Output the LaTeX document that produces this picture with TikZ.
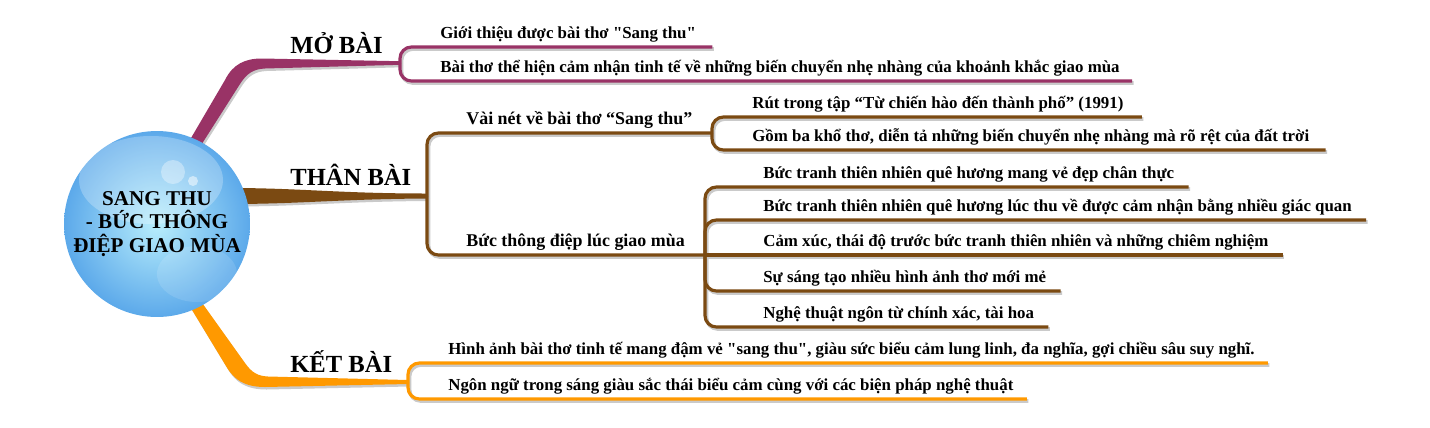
\documentclass[tikz,border=0pt]{standalone}
\usepackage{fontspec}
\setmainfont{Liberation Serif}[Ligatures=TeXOff]
\usepackage{tikz}
\usetikzlibrary{calc,positioning}
\definecolor{mocol}{HTML}{993366}
\definecolor{thancol}{HTML}{7B4A12}
\definecolor{ketcol}{HTML}{FF9900}
\definecolor{sphin}{HTML}{B8EEFC}
\definecolor{sphout}{HTML}{5CA9EA}
\definecolor{shcol}{HTML}{CACACA}
% all thin connectors, drawn twice (shadow, then colour)
\newcommand{\links}{%
  \draw[lnk=mocol] (moF) |- ($(mo1.south east)+(16,0)$);
  \draw[lnk=mocol] (moF) |- ($(mo2.south east)+(12,0)$);
  \draw[lnk=thancol] (thF) |- (t1F);
  \draw[lnk=thancol] (thF) |- (t2F);
  \draw[lnk=thancol] (t1F) |- ($(t11.south east)+(18,0)$);
  \draw[lnk=thancol] (t1F) |- ($(t12.south east)+(16,0)$);
  \draw[lnk=thancol] (t2F) |- ($(t21.south east)+(14,0)$);
  \draw[lnk=thancol] (t2F) |- ($(t22.south east)+(14,0)$);
  \draw[lnk=thancol] (t2F) -- ($(t23.south east)+(14,0)$);
  \draw[lnk=thancol] (t2F) |- ($(t24.south east)+(14,0)$);
  \draw[lnk=thancol] (t2F) |- ($(t25.south east)+(14,0)$);
  \draw[lnk=ketcol] (ketF) |- ($(ket1.south east)+(13,0)$);
  \draw[lnk=ketcol] (ketF) |- ($(ket2.south east)+(13,0)$);
}

\begin{document}
\begin{tikzpicture}[
  x=0.02cm, y=-0.02cm,
  root/.style={circle, minimum size=3.72cm, inner sep=0pt, align=center, inner color=sphin, outer color=sphout,
    font=\fontsize{12}{13.6}\selectfont\bfseries,
    path picture={
      \fill[white, opacity=0.25] ($(path picture bounding box.center)+(-6,-44)$) ellipse [x radius=72, y radius=44];
      \fill[white, opacity=0.12] ($(path picture bounding box.center)+(40,50)$) ellipse [x radius=40, y radius=28];
      \fill[white, opacity=0.35] ($(path picture bounding box.center)+(16,-52)$) circle [radius=12];
      \fill[white, opacity=0.5] ($(path picture bounding box.center)+(36,-43)$) circle [radius=5];
    }},
  main/.style={anchor=base west, inner sep=0pt, font=\fontsize{14}{16}\selectfont\bfseries},
  mid/.style={anchor=south west, inner sep=0pt, text depth=4.5pt, font=\fontsize{10.2}{12}\selectfont\bfseries},
  leaf/.style={anchor=south west, inner sep=0pt, text depth=4.5pt, font=\fontsize{9.6}{11}\selectfont\bfseries},
  trunk/.style={fill=#1, preaction={fill=shcol, transform canvas={shift={(1.5,2.5)}}}}
]
\useasboundingbox (0,0) rectangle (1430,427);

% Fork points
\coordinate (moF) at (400,63);
\coordinate (thF) at (427,196);
\coordinate (ketF) at (408,382);
\coordinate (t1F) at (712,133);
\coordinate (t2F) at (705,255);

% Thick tapered branches out of the sphere
\fill[trunk=mocol] (184,150) -- (225,80) .. controls (233,64) and (245,58.5) .. (262,58.5)
  -- ($(moF)+(0,-1.8)$) -- ($(moF)+(0,1.8)$) -- (265,68.5) .. controls (254,69) and (247,73) .. (240,84) -- (198,150) -- cycle;
\fill[trunk=thancol] (230,188) .. controls (300,188) and (340,193.5) .. ($(thF)+(0,-2.5)$)
  -- ($(thF)+(0,2.5)$) .. controls (340,199) and (300,204) .. (230,204) -- cycle;
\fill[trunk=ketcol] (186,300) -- (226,366) .. controls (234,380) and (245,387) .. (265,387)
  -- ($(ketF)+(0,2)$) -- ($(ketF)+(0,-2)$) -- (268,376.5) .. controls (258,376) and (252,373) .. (245,363) -- (200,300) -- cycle;

% Centre
\node[root] (root) at (157,224) {SANG THU\\- BỨC THÔNG\\ĐIỆP GIAO MÙA};

% Main headings
\node[main] (mo) at (290,53) {MỞ BÀI};
\node[main] (than) at (290,185) {THÂN BÀI};
\node[main] (ket) at (290,372) {KẾT BÀI};

% Mở bài
\node[leaf] (mo1) at (440,47) {Giới thiệu được bài thơ "Sang thu"};
\node[leaf] (mo2) at (440,81) {Bài thơ thể hiện cảm nhận tinh tế về những biến chuyển nhẹ nhàng của khoảnh khắc giao mùa};

% Thân bài
\node[mid] (than1) at (466,133) {Vài nét về bài thơ “Sang thu”};
\node[mid] (than2) at (466,255) {Bức thông điệp lúc giao mùa};
\node[leaf] (t11) at (752,117) {Rút trong tập “Từ chiến hào đến thành phố” (1991)};
\node[leaf] (t12) at (752,150) {Gồm ba khổ thơ, diễn tả những biến chuyển nhẹ nhàng mà rõ rệt của đất trời};
\node[leaf] (t21) at (763,187) {Bức tranh thiên nhiên quê hương mang vẻ đẹp chân thực};
\node[leaf] (t22) at (763,220) {Bức tranh thiên nhiên quê hương lúc thu về được cảm nhận bằng nhiều giác quan};
\node[leaf] (t23) at (763,255) {Cảm xúc, thái độ trước bức tranh thiên nhiên và những chiêm nghiệm};
\node[leaf] (t24) at (763,291) {Sự sáng tạo nhiều hình ảnh thơ mới mẻ};
\node[leaf] (t25) at (763,327) {Nghệ thuật ngôn từ chính xác, tài hoa};

% Kết bài
\node[leaf] (ket1) at (448,363) {Hình ảnh bài thơ tinh tế mang đậm vẻ "sang thu", giàu sức biểu cảm lung linh, đa nghĩa, gợi chiều sâu suy nghĩ.};
\node[leaf] (ket2) at (448,399) {Ngôn ngữ trong sáng giàu sắc thái biểu cảm cùng với các biện pháp nghệ thuật};

% Connectors
\begin{scope}[transform canvas={shift={(1.5,2)}}, lnk/.style={draw=shcol, line width=2.1pt, rounded corners=6.5pt}]
  \links
\end{scope}
\begin{scope}[lnk/.style={draw=#1, line width=1.8pt, rounded corners=6.5pt}]
  \links
\end{scope}

\end{tikzpicture}
\end{document}
